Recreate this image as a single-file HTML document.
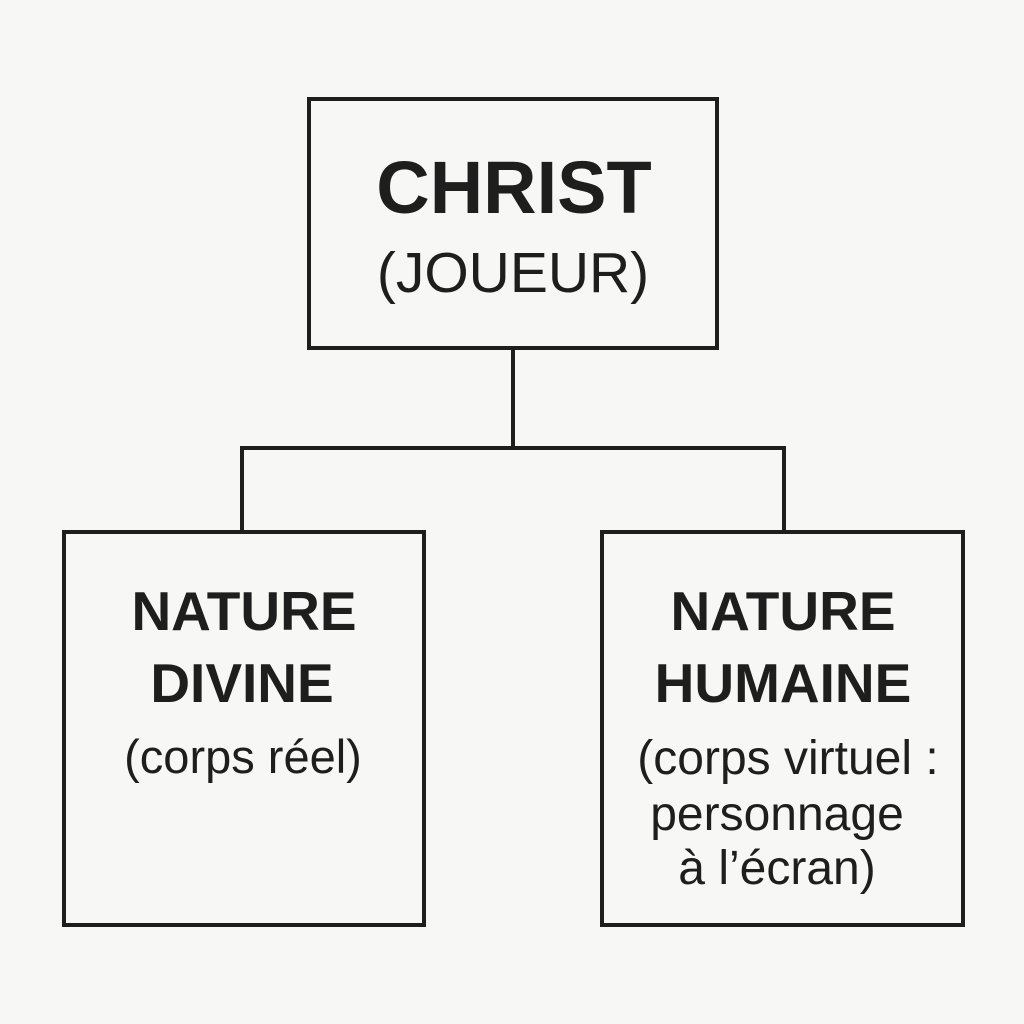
<!DOCTYPE html>
<html><head><meta charset="utf-8"><style>
html,body{margin:0;padding:0;background:#f7f7f5;}
svg{display:block}
text{font-family:"Liberation Sans",Arial,sans-serif;fill:#1e1e1e;text-anchor:middle}
.b{font-weight:bold}
</style></head><body>
<svg width="1024" height="1024" viewBox="0 0 1024 1024">
<rect width="1024" height="1024" fill="#f7f7f5"/>
<g fill="none" stroke="#1e1e1e" stroke-width="4">
<rect x="309" y="99" width="408" height="249"/>
<rect x="64" y="532" width="360" height="393"/>
<rect x="602" y="532" width="361" height="393"/>
<path d="M513 348 V448 M242 448 H784 M242 446 V532 M784 446 V532"/>
</g>
<text class="b" x="514" y="213" font-size="74">CHRIST</text>
<text x="513" y="292" font-size="57">(JOUEUR)</text>
<text class="b" x="244" y="630" font-size="55">NATURE</text>
<text class="b" x="242" y="702" font-size="55">DIVINE</text>
<text x="243" y="773" font-size="47">(corps réel)</text>
<text class="b" x="783" y="630" font-size="55">NATURE</text>
<text class="b" x="783" y="702" font-size="55">HUMAINE</text>
<text x="788" y="774" font-size="48">(corps virtuel :</text>
<text x="777" y="830" font-size="48">personnage</text>
<text x="777" y="884" font-size="48">à l’écran)</text>
</svg>
</body></html>
